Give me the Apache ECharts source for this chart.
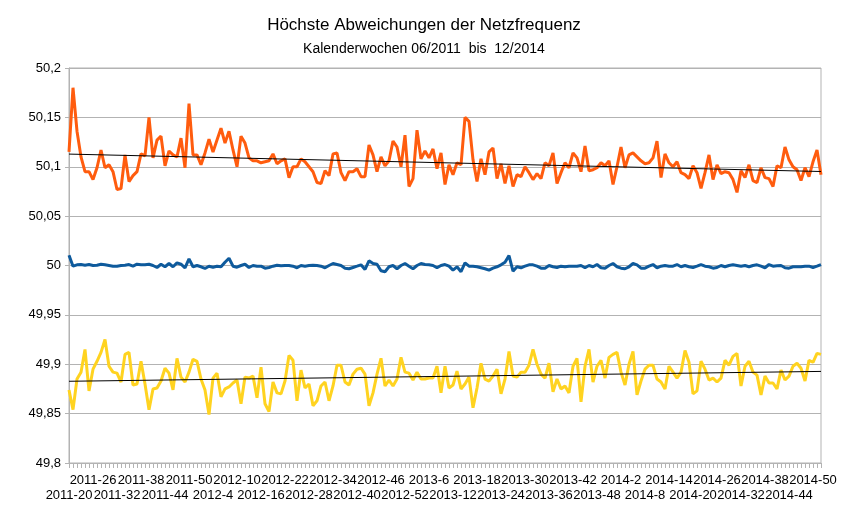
<!DOCTYPE html>
<html>
<head>
<meta charset="utf-8">
<script src="https://cdn.jsdelivr.net/npm/echarts@6/dist/echarts.min.js"></script>
<style>html,body{margin:0;padding:0;background:#fff}#c{width:848px;height:523px}</style>
</head>
<body>
<div id="c"></div>
<script>
// Calendar weeks 2011-20 .. 2014-52
const weekRanges = [[2011, 20, 52], [2012, 1, 52], [2013, 1, 52], [2014, 1, 52]];
const categories = [];
weekRanges.forEach(function (r) { for (let w = r[1]; w <= r[2]; w++) categories.push(r[0] + '-' + w); });

const yTickValues = [49.8, 49.85, 49.9, 49.95, 50, 50.05, 50.1, 50.15, 50.2];

const maxFreq = [50.115,50.180,50.136,50.110,50.095,50.095,50.087,50.099,50.117,50.099,
50.102,50.095,50.077,50.078,50.112,50.085,50.091,50.095,50.113,50.111,
50.150,50.109,50.127,50.131,50.101,50.116,50.112,50.110,50.129,50.099,
50.164,50.112,50.112,50.102,50.114,50.128,50.115,50.127,50.139,50.124,
50.136,50.117,50.100,50.131,50.124,50.109,50.106,50.106,50.104,50.105,
50.106,50.113,50.103,50.106,50.108,50.089,50.100,50.100,50.108,50.105,
50.100,50.095,50.084,50.083,50.096,50.091,50.113,50.114,50.094,50.086,
50.095,50.095,50.098,50.090,50.090,50.122,50.112,50.095,50.110,50.101,
50.106,50.126,50.120,50.100,50.132,50.080,50.088,50.137,50.108,50.116,
50.109,50.118,50.098,50.114,50.082,50.102,50.092,50.104,50.102,50.150,
50.146,50.107,50.085,50.108,50.092,50.115,50.119,50.088,50.103,50.083,
50.101,50.080,50.092,50.090,50.100,50.094,50.087,50.093,50.088,50.104,
50.101,50.114,50.083,50.094,50.104,50.099,50.114,50.109,50.095,50.121,
50.096,50.097,50.099,50.104,50.101,50.106,50.082,50.100,50.120,50.099,
50.112,50.114,50.110,50.106,50.103,50.104,50.109,50.126,50.089,50.113,
50.104,50.100,50.105,50.094,50.092,50.088,50.101,50.094,50.078,50.094,
50.112,50.087,50.102,50.093,50.095,50.094,50.087,50.074,50.096,50.089,
50.102,50.086,50.084,50.099,50.089,50.088,50.080,50.101,50.099,50.120,
50.107,50.100,50.097,50.086,50.099,50.090,50.105,50.117,50.092];

const meanFreq = [50.0103,49.9993,50.0007,50.0010,50.0003,50.0010,50.0000,50.0003,50.0013,50.0007,
50.0000,49.9993,49.9993,50.0000,50.0003,50.0010,49.9993,50.0013,50.0007,50.0007,
50.0013,50.0000,49.9980,50.0013,49.9987,50.0020,49.9987,50.0027,50.0013,49.9977,
50.0067,49.9987,50.0000,49.9987,49.9970,49.9993,49.9983,49.9993,49.9987,50.0033,
50.0073,49.9993,49.9983,50.0000,50.0013,49.9980,50.0000,49.9993,49.9993,49.9973,
49.9980,49.9993,50.0003,49.9997,50.0000,50.0000,49.9993,49.9977,50.0000,49.9993,
50.0000,50.0003,50.0000,49.9993,49.9977,50.0000,50.0020,50.0010,50.0000,49.9973,
49.9967,49.9980,49.9993,50.0007,49.9960,50.0047,50.0020,50.0013,49.9947,49.9937,
49.9987,50.0000,49.9967,50.0000,50.0020,49.9993,49.9967,50.0000,50.0020,50.0010,
50.0007,50.0000,49.9977,50.0000,50.0010,49.9993,49.9953,49.9987,49.9937,50.0027,
49.9993,49.9993,49.9987,49.9977,49.9967,49.9953,49.9973,49.9987,50.0007,50.0033,
50.0100,49.9943,49.9987,49.9977,49.9993,50.0007,50.0007,49.9993,49.9973,49.9973,
50.0000,49.9987,49.9980,49.9993,49.9987,49.9993,49.9993,49.9993,50.0000,49.9977,
50.0000,49.9987,50.0010,49.9977,49.9973,50.0000,50.0020,49.9987,49.9973,49.9967,
49.9987,50.0020,50.0007,49.9973,49.9973,49.9993,50.0010,49.9977,49.9993,50.0000,
49.9993,49.9993,50.0010,49.9987,50.0000,49.9987,49.9980,49.9993,50.0010,49.9993,
49.9987,49.9973,49.9980,50.0000,49.9987,50.0000,50.0007,50.0000,49.9993,50.0000,
49.9987,50.0000,50.0007,49.9993,49.9977,50.0010,49.9993,49.9997,50.0000,49.9977,
49.9973,49.9987,49.9987,49.9987,49.9993,49.9993,49.9980,49.9993,50.0010];

const minFreq = [49.874,49.854,49.885,49.892,49.915,49.873,49.895,49.903,49.912,49.925,
49.898,49.892,49.891,49.882,49.910,49.912,49.879,49.880,49.903,49.880,
49.854,49.875,49.876,49.883,49.896,49.891,49.874,49.906,49.887,49.882,
49.892,49.905,49.903,49.885,49.874,49.849,49.886,49.891,49.867,49.875,
49.877,49.881,49.884,49.860,49.887,49.886,49.888,49.866,49.897,49.860,
49.852,49.882,49.871,49.870,49.883,49.909,49.904,49.863,49.894,49.876,
49.880,49.858,49.863,49.878,49.882,49.863,49.878,49.899,49.899,49.882,
49.879,49.890,49.895,49.896,49.890,49.858,49.871,49.890,49.906,49.878,
49.884,49.878,49.885,49.907,49.892,49.891,49.884,49.892,49.885,49.885,
49.886,49.886,49.898,49.871,49.898,49.876,49.879,49.893,49.875,49.880,
49.887,49.856,49.876,49.901,49.885,49.883,49.888,49.895,49.870,49.885,
49.913,49.888,49.887,49.892,49.892,49.899,49.915,49.900,49.890,49.886,
49.901,49.872,49.885,49.875,49.878,49.871,49.898,49.906,49.862,49.898,
49.915,49.882,49.898,49.904,49.886,49.907,49.910,49.912,49.892,49.879,
49.900,49.913,49.869,49.883,49.895,49.899,49.899,49.885,49.882,49.875,
49.898,49.892,49.886,49.892,49.914,49.902,49.870,49.873,49.903,49.895,
49.884,49.886,49.882,49.886,49.904,49.899,49.908,49.911,49.878,49.898,
49.903,49.892,49.889,49.869,49.888,49.881,49.881,49.875,49.894,49.884,
49.888,49.898,49.901,49.896,49.883,49.904,49.902,49.911,49.910];

function linTrend(arr) {
  const n = arr.length;
  let sx = 0, sy = 0, sxx = 0, sxy = 0;
  for (let i = 0; i < n; i++) { sx += i; sy += arr[i]; sxx += i * i; sxy += i * arr[i]; }
  const b = (n * sxy - sx * sy) / (n * sxx - sx * sx);
  const a = (sy - b * sx) / n;
  return arr.map(function (_, i) { return +(a + b * i).toFixed(5); });
}

const FONT = 'Liberation Sans, Arial, sans-serif';
const labelBase = { fontFamily: FONT, fontSize: 13, color: '#000', lineHeight: 15, hideOverlap: false };
const chart = echarts.init(document.getElementById('c'), null, { renderer: 'canvas' });
chart.setOption({
  animation: false,
  backgroundColor: '#ffffff',
  title: [
    { text: 'Höchste Abweichungen der Netzfrequenz', left: 'center', top: 12,
      textStyle: { fontFamily: FONT, fontSize: 17, fontWeight: 'normal', color: '#000' } },
    { text: 'Kalenderwochen 06/2011  bis  12/2014', left: 'center', top: 37,
      textStyle: { fontFamily: FONT, fontSize: 14, fontWeight: 'normal', color: '#000' } }
  ],
  grid: { left: 69, right: 27, top: 68, bottom: 60, show: true, borderColor: '#b3b3b3', borderWidth: 1 },
  xAxis: [
    {
      type: 'category', data: categories, boundaryGap: false,
      axisLine: { lineStyle: { color: '#b3b3b3', width: 1 } },
      axisTick: { show: true, interval: 0, length: 5, lineStyle: { color: '#b3b3b3' } },
      axisLabel: Object.assign({}, labelBase, {
        margin: 10,
        interval: function (idx) { return idx % 12 === 6; }
      }),
      splitLine: { show: false }
    },
    {
      type: 'category', data: categories, boundaryGap: false, position: 'bottom',
      axisLine: { show: false }, axisTick: { show: false }, splitLine: { show: false },
      axisLabel: Object.assign({}, labelBase, {
        margin: 25,
        interval: function (idx) { return idx % 12 === 0; }
      })
    }
  ],
  yAxis: {
    type: 'value', min: yTickValues[0], max: yTickValues[yTickValues.length - 1], interval: 0.05,
    axisLine: { show: true, lineStyle: { color: '#b3b3b3' } },
    axisTick: { show: true, length: 4, lineStyle: { color: '#b3b3b3' } },
    axisLabel: {
      margin: 8, fontFamily: FONT, fontSize: 13, color: '#000',
      formatter: function (v) { return String(Math.round(v * 100) / 100).replace('.', ','); }
    },
    splitLine: { lineStyle: { color: '#b3b3b3', width: 1 } }
  },
  series: [
    { name: 'max', type: 'line', data: maxFreq, symbol: 'none', lineStyle: { color: '#ff5c0e', width: 3 }, z: 2 },
    { name: 'mean', type: 'line', data: meanFreq, symbol: 'none', lineStyle: { color: '#0e5a9c', width: 3 }, z: 2 },
    { name: 'min', type: 'line', data: minFreq, symbol: 'none', lineStyle: { color: '#ffd320', width: 3 }, z: 2 },
    { name: 'trendMax', type: 'line', data: linTrend(maxFreq), symbol: 'none', lineStyle: { color: '#000', width: 1 }, z: 3, silent: true },
    { name: 'trendMin', type: 'line', data: linTrend(minFreq), symbol: 'none', lineStyle: { color: '#000', width: 1 }, z: 3, silent: true }
  ]
});
</script>
</body>
</html>
